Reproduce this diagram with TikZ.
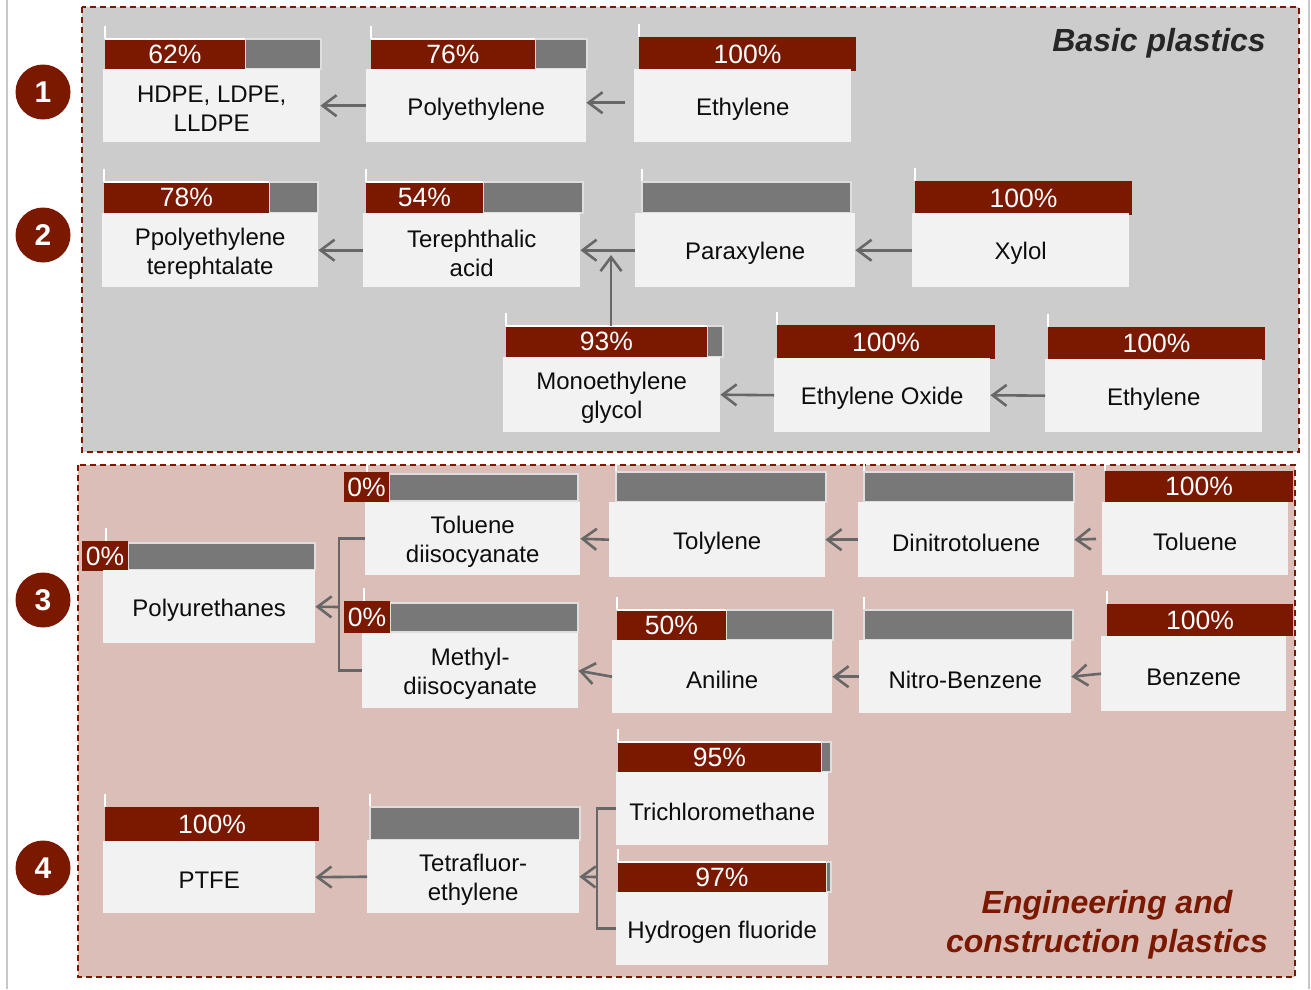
\documentclass[tikz,border=0pt]{standalone}
\usepackage{fontspec}
\setmainfont{Liberation Sans}
\usetikzlibrary{arrows.meta}
\definecolor{dred}{RGB}{122,24,0}
\definecolor{bgray}{RGB}{120,120,120}
\definecolor{boxf}{RGB}{242,242,242}
\definecolor{pone}{RGB}{204,204,204}
\definecolor{ptwo}{RGB}{218,190,183}
\definecolor{arrc}{RGB}{103,103,103}
\definecolor{ttl}{RGB}{38,38,38}
\definecolor{framec}{RGB}{200,200,200}
\definecolor{txt}{RGB}{13,13,13}
\definecolor{outl}{RGB}{222,222,222}
\newcommand\bxfont{\fontsize{24}{29}\selectfont}
\newcommand\pctfont{\fontsize{26.5}{28}\selectfont}
\newcommand\ttlfont{\fontsize{32}{36}\selectfont\bfseries\itshape}
\newcommand\numfont{\fontsize{30}{32}\selectfont\bfseries}
% box: name x1 y1 x2 y2 text
\newcommand\mybox[6]{\node[boxst,minimum width={#4-#2},minimum height={#5-#3},anchor=north west] (#1) at (#2,#3) {};
  \node[txtst] (#1-t) at ([yshift=-3.5pt]#1.center) {#6};}
% partial bar: name x0 y0 xr x1 y1 label
\newcommand\pbar[7]{%
  \draw[tick] (#2,#3-13) -- (#2,#3);
  \fill[bgray] (#4,#3) rectangle (#5,#6);
  \draw[draw=outl,line width=1.2pt] (#4,#3) rectangle (#5,#6);
  \fill[dred] (#2,#3) rectangle (#4,#6);
  \draw[white,line width=1.2pt] (#2,#3) -- (#4,#3);
  \node[pctst] (#1) at ({(#2+#4)/2},{(#3+#6)/2}) {#7};}
% full red bar: name x0 y0 x1 y1 label
\newcommand\fbar[6]{%
  \draw[tick] (#2,#3-13) -- (#2,#3);
  \fill[dred] (#2,#3) rectangle (#4,#5);
  \node[pctst] (#1) at ({(#2+#4)/2},{(#3+#5)/2}) {#6};}
% gray bar: x0 y0 x1 y1
\newcommand\gbar[4]{%
  \draw[tick] (#1,#2-13) -- (#1,#2);
  \fill[bgray] (#1,#2) rectangle (#3,#4);
  \draw[draw=outl,line width=1.2pt] (#1,#2) rectangle (#3,#4);}
% zero bar: name tickx y0 labx0 labx1 x1 y1
\newcommand\zbar[7]{%
  \draw[tick] (#2,#3-13) -- (#2,#3);
  \fill[bgray] (#5,#3+2) rectangle (#6,#7-1);
  \draw[draw=outl,line width=1.2pt] (#5,#3+2) rectangle (#6,#7-1);
  \fill[dred] (#4,#3) rectangle (#5,#7);
  \node[pctst] (#1) at ({(#4+#5)/2},{(#3+#7)/2}) {0\%};}
\begin{document}
\begin{tikzpicture}[x=1pt,y=-1pt,
  boxst/.style={fill=boxf,inner sep=0pt},
  txtst/.style={inner sep=0pt,align=center,font=\bxfont,text=txt},
  pctst/.style={text=white,font=\pctfont,inner sep=0pt},
  tick/.style={draw=white,line width=1.5pt},
  dashst/.style={draw=dred,line width=1.8pt,dash pattern=on 6pt off 4pt},
  arr/.style={draw=arrc,line width=2.6pt,-{Straight Barb[length=14pt,width=21pt]}},
  conn/.style={draw=arrc,line width=2.6pt},
  circ/.style={circle,fill=dred,text=white,font=\numfont,minimum size=55pt,inner sep=0pt}]
\useasboundingbox (0,0) rectangle (1311,989);
\fill[white] (0,0) rectangle (1311,989);
\draw[framec,line width=2pt] (7,0) -- (7,989);
\draw[framec,line width=2pt] (1309,0) -- (1309,989);
% panels
\draw[dashst,fill=pone] (82,7) rectangle (1299,452);
\draw[dashst,fill=ptwo] (78,465) rectangle (1295,977);
\node[anchor=base east,font=\ttlfont,text=ttl,inner sep=0pt] (t1) at (1266,51) {Basic plastics};
\node[anchor=base,font=\ttlfont,text=dred,inner sep=0pt] (t2a) at (1107,913) {Engineering and};
\node[anchor=base,font=\ttlfont,text=dred,inner sep=0pt] (t2b) at (1107,952) {construction plastics};
% numbers
\node[circ] (n1) at (43,92) {1};
\node[circ] (n2) at (43,235) {2};
\node[circ] (n3) at (43,600) {3};
\node[circ] (n4) at (43,868) {4};
% row 1
\pbar{p1}{105}{39}{245}{321}{69}{62\%}
\mybox{hdpe}{103}{69}{320}{142}{HDPE, LDPE,\\LLDPE}
\pbar{p2}{371}{39}{535}{587}{69}{76\%}
\mybox{poly}{366}{69}{586}{142}{Polyethylene}
\fbar{p3}{639}{37}{856}{71}{100\%}
\mybox{ethA}{634}{69}{851}{142}{Ethylene}
% row 2
\pbar{p4}{104}{182}{269}{318}{213}{78\%}
\mybox{pet}{102}{213}{318}{287}{Ppolyethylene\\terephtalate}
\pbar{p5}{366}{182}{483}{583}{213}{54\%}
\mybox{tpa}{363}{213}{580}{287}{Terephthalic\\acid}
\gbar{642}{182}{851}{213}
\mybox{para}{635}{213}{855}{287}{Paraxylene}
\fbar{p7}{915}{181}{1132}{215}{100\%}
\mybox{xyl}{912}{213}{1129}{287}{Xylol}
% row 2b
\pbar{p8}{506}{326}{707}{723}{357}{93\%}
\mybox{meg}{503}{357}{720}{432}{Monoethylene\\glycol}
\fbar{p9}{777}{325}{995}{359}{100\%}
\mybox{eo}{774}{358}{990}{432}{Ethylene Oxide}
\fbar{p10}{1048}{327}{1265}{360}{100\%}
\mybox{ethB}{1045}{359}{1262}{432}{Ethylene}
% row 3a
\zbar{p11}{367}{472}{344}{389}{578}{502}
\mybox{tdi}{365}{502}{580}{575}{Toluene\\diisocyanate}
\gbar{616}{472}{826}{502}
\mybox{toly}{609}{502}{825}{577}{Tolylene}
\gbar{864}{472}{1074}{502}
\mybox{dnt}{858}{502}{1074}{577}{Dinitrotoluene}
\fbar{p14}{1105}{471}{1293}{502}{100\%}
\mybox{tol}{1102}{502}{1288}{575}{Toluene}
% polyurethanes
\zbar{p15}{106}{541}{82}{128}{315}{571}
\mybox{pu}{103}{570}{315}{643}{Polyurethanes}
% row 3b
\zbar{p16}{364}{601}{344}{390}{578}{633}
\mybox{mdi}{362}{633}{578}{708}{Methyl-\\diisocyanate}
\pbar{p17}{617}{610}{726}{833}{640}{50\%}
\mybox{anil}{612}{640}{832}{713}{Aniline}
\gbar{864}{610}{1073}{640}
\mybox{nitro}{859}{640}{1071}{713}{Nitro-Benzene}
\fbar{p19}{1107}{604}{1293}{636}{100\%}
\mybox{benz}{1101}{636}{1286}{711}{Benzene}
% row 4
\fbar{p20}{105}{807}{319}{841}{100\%}
\mybox{ptfe}{103}{841}{315}{913}{PTFE}
\gbar{370}{807}{580}{840}
\mybox{tfe}{367}{840}{579}{913}{Tetrafluor-\\ethylene}
\pbar{p22}{618}{742}{821}{831}{772}{95\%}
\mybox{tcm}{616}{772}{828}{845}{Trichloromethane}
\pbar{p23}{618}{862}{826}{831}{892}{97\%}
\mybox{hf}{616}{892}{828}{965}{Hydrogen fluoride}
% connectors
\draw[arr] (poly.west) -- (hdpe.east);
\draw[arr,shorten <=9pt] ([yshift=3pt]ethA.west) -- ([yshift=3pt]poly.east);
\draw[arr] (tpa.west) -- (pet.east);
\draw[arr] (para.west) -- (tpa.east);
\draw[arr] (xyl.west) -- (para.east);
\coordinate (tj) at (611,250);
\coordinate (megtop) at (611,326);
\draw[arr] (megtop) -- ([yshift=-5pt]tj);
\draw[arr] (eo.west) -- (meg.east);
\draw[arr] (ethB.west) -- (eo.east);
\draw[arr] (toly.west) -- (tdi.east);
\draw[arr] (dnt.west) -- (toly.east);
\draw[arr,shorten <=6pt] (tol.west) -- (dnt.east);
\draw[arr] (anil.west) -- (mdi.east);
\draw[arr] (nitro.west) -- (anil.east);
\draw[arr] (benz.west) -- (nitro.east);
\coordinate (bj1) at (339,607);
\draw[conn] (tdi.west) -| (bj1) |- (mdi.west);
\draw[arr] (bj1) -- (pu.east);
\draw[arr] (tfe.west) -- (ptfe.east);
\coordinate (bj2) at (597,877);
\draw[conn] (tcm.west) -| (bj2) |- (hf.west);
\draw[arr] (bj2) -- (tfe.east);
\end{tikzpicture}
\end{document}
